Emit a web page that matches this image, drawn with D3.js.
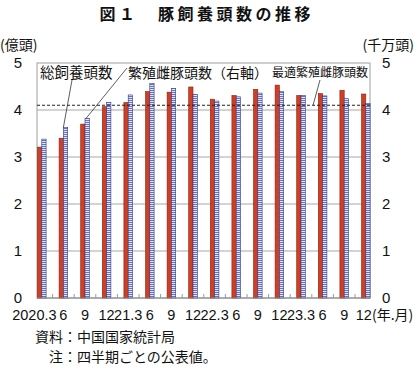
<!DOCTYPE html>
<html>
<head>
<meta charset="utf-8">
<script src="https://cdn.jsdelivr.net/npm/d3@7"></script>
<style>
  body { margin: 0; background: #fff; }
  svg text { font-family: "Liberation Sans", "Noto Sans CJK JP", sans-serif; fill: #111; }
  .jp { font-family: "Noto Sans CJK JP", sans-serif; }
</style>
</head>
<body>
<div id="container"></div>
<script>
// quarter labels (year.month)
const quarters = ["2020.3", "6", "9", "12", "21.3", "6", "9", "12", "22.3", "6", "9", "12", "23.3", "6", "9", "12"];
// 総飼養頭数 (億頭), left axis
const totalPigs = [3.21, 3.40, 3.70, 4.07, 4.16, 4.39, 4.38, 4.49, 4.23, 4.31, 4.44, 4.53, 4.31, 4.35, 4.42, 4.34];
// 繁殖雌豚頭数 (千万頭), right axis
const sows = [3.38, 3.63, 3.82, 4.16, 4.32, 4.56, 4.46, 4.33, 4.19, 4.28, 4.36, 4.39, 4.31, 4.30, 4.24, 4.14];
// 最適繁殖雌豚頭数 (千万頭)
const optimalSows = 4.1;
const yTicks = [0, 1, 2, 3, 4, 5];

const W = 420, H = 369;
const plot = { left: 37, right: 370, top: 63, bottom: 298 };

const svg = d3.select("#container").append("svg")
  .attr("width", W)
  .attr("height", H);

const defs = svg.append("defs");
const pat = defs.append("pattern")
  .attr("id", "hatch")
  .attr("patternUnits", "userSpaceOnUse")
  .attr("width", 4)
  .attr("height", 2);
pat.append("rect").attr("width", 4).attr("height", 2).attr("fill", "#e4e5f3");
pat.append("rect").attr("width", 4).attr("height", 1).attr("fill", "#6a72b8");

const idx = d3.range(quarters.length);
const x = d3.scaleBand()
  .domain(idx)
  .range([31, 31 + 21.6 * quarters.length]);
const barW = 4.3;

const yLeft = d3.scaleLinear().domain([0, 5]).range([plot.bottom, plot.top]);
const yRight = d3.scaleLinear().domain([0, 5]).range([plot.bottom, plot.top]);

// title
svg.append("text")
  .attr("class", "jp")
  .attr("x", 99.5)
  .attr("y", 20)
  .attr("font-size", 16)
  .attr("font-weight", "bold")
  .attr("letter-spacing", 3.5)
  .text("図１　豚飼養頭数の推移");

// unit labels
svg.append("text").attr("class", "jp")
  .attr("x", 0).attr("y", 50).attr("font-size", 14)
  .text("(億頭)");
svg.append("text").attr("class", "jp")
  .attr("x", 414).attr("y", 50).attr("font-size", 14)
  .attr("text-anchor", "end")
  .text("(千万頭)");

// gridlines
svg.append("g")
  .selectAll("line")
  .data(yTicks.filter(d => d > 0 && d < 5))
  .join("line")
  .attr("x1", plot.left).attr("x2", plot.right)
  .attr("y1", d => yLeft(d)).attr("y2", d => yLeft(d))
  .attr("stroke", "#a8a8a8")
  .attr("stroke-width", 1);

// plot border
svg.append("rect")
  .attr("x", plot.left).attr("y", plot.top)
  .attr("width", plot.right - plot.left)
  .attr("height", plot.bottom - plot.top)
  .attr("fill", "none")
  .attr("stroke", "#a0a0a0")
  .attr("stroke-width", 1);

// bars
svg.append("g")
  .selectAll("rect")
  .data(idx)
  .join("rect")
  .attr("x", i => x(i) + x.bandwidth() / 2 - barW)
  .attr("y", i => yLeft(totalPigs[i]))
  .attr("width", barW)
  .attr("height", i => yLeft(0) - yLeft(totalPigs[i]))
  .attr("fill", "#cf3f24")
  .attr("stroke", "#8a2010")
  .attr("stroke-width", 0.6);

svg.append("g")
  .selectAll("rect")
  .data(idx)
  .join("rect")
  .attr("x", i => x(i) + x.bandwidth() / 2)
  .attr("y", i => yRight(sows[i]))
  .attr("width", barW)
  .attr("height", i => yRight(0) - yRight(sows[i]))
  .attr("fill", "url(#hatch)")
  .attr("stroke", "#2c3788")
  .attr("stroke-width", 0.6);

// optimal sows dashed line
svg.append("line")
  .attr("x1", plot.left).attr("x2", plot.right)
  .attr("y1", yRight(optimalSows)).attr("y2", yRight(optimalSows))
  .attr("stroke", "#222")
  .attr("stroke-width", 1.1)
  .attr("stroke-dasharray", "3,2");

// x axis line and ticks
svg.append("line")
  .attr("x1", plot.left).attr("x2", plot.right)
  .attr("y1", plot.bottom).attr("y2", plot.bottom)
  .attr("stroke", "#888");
svg.append("g")
  .selectAll("line")
  .data(idx.slice(0, -1))
  .join("line")
  .attr("x1", i => x(i) + x.bandwidth()).attr("x2", i => x(i) + x.bandwidth())
  .attr("y1", plot.bottom).attr("y2", plot.bottom - 4)
  .attr("stroke", "#999");

// x labels
svg.append("g")
  .selectAll("text")
  .data(idx)
  .join("text")
  .attr("x", i => i === 0 ? x(i) + x.bandwidth() + 4 : x(i) + x.bandwidth() / 2 - (i === idx.length - 1 ? 2 : 0))
  .attr("y", 320)
  .attr("font-size", 14.5)
  .attr("text-anchor", i => i === 0 ? "end" : "middle")
  .text(i => quarters[i]);

svg.append("text").attr("class", "jp")
  .attr("x", 372).attr("y", 320).attr("font-size", 14)
  .text("(年.月)");

// y axis labels (left & right)
const yAxisL = d3.axisLeft(yLeft).tickValues(yTicks).tickFormat(d3.format("d")).tickSize(0).tickPadding(0);
svg.append("g")
  .attr("transform", "translate(22,0)")
  .call(yAxisL)
  .call(g => g.select(".domain").remove())
  .selectAll("text")
  .attr("font-size", 15)
  .attr("font-family", "Liberation Sans");

const yAxisR = d3.axisRight(yRight).tickValues(yTicks).tickFormat(d3.format("d")).tickSize(0).tickPadding(0);
svg.append("g")
  .attr("transform", "translate(382,0)")
  .call(yAxisR)
  .call(g => g.select(".domain").remove())
  .selectAll("text")
  .attr("font-size", 15)
  .attr("font-family", "Liberation Sans");

// legend labels with leader lines
svg.append("text").attr("class", "jp")
  .attr("x", 40).attr("y", 78).attr("font-size", 14.5)
  .text("総飼養頭数");
svg.append("line")
  .attr("x1", 72).attr("y1", 80)
  .attr("x2", x(1) + x.bandwidth() / 2).attr("y2", yRight(sows[1]))
  .attr("stroke", "#333").attr("stroke-width", 0.8);

svg.append("text").attr("class", "jp")
  .attr("x", 128).attr("y", 78).attr("font-size", 14)
  .text("繁殖雌豚頭数（右軸）");
svg.append("line")
  .attr("x1", 127).attr("y1", 68)
  .attr("x2", x(2) + x.bandwidth() / 2 + 1).attr("y2", yRight(sows[2]))
  .attr("stroke", "#333").attr("stroke-width", 0.8);

svg.append("text").attr("class", "jp")
  .attr("x", 272).attr("y", 77).attr("font-size", 12)
  .text("最適繁殖雌豚頭数");
svg.append("line")
  .attr("x1", 320).attr("y1", 80)
  .attr("x2", 313).attr("y2", yRight(optimalSows))
  .attr("stroke", "#333").attr("stroke-width", 0.8);

// notes
svg.append("text").attr("class", "jp")
  .attr("x", 35).attr("y", 342).attr("font-size", 14)
  .text("資料：中国国家統計局");
svg.append("text").attr("class", "jp")
  .attr("x", 49).attr("y", 362).attr("font-size", 14)
  .text("注：四半期ごとの公表値。");
</script>
</body>
</html>
